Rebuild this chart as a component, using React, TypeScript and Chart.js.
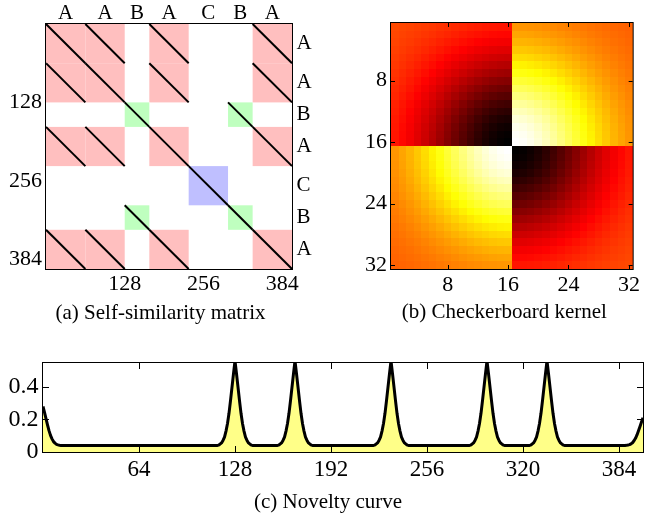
import React, { useEffect, useRef } from 'react';
import { Chart, registerables } from 'chart.js';

Chart.register(...registerables);

// ---------- data ----------
const segmentLabels = ['A', 'A', 'B', 'A', 'C', 'B', 'A'];
const segmentLengths = [64, 64, 40, 64, 64, 40, 64];
const ssmTicks = [128, 256, 384];

// taper of the checkerboard kernel, from the centre (index 0) to the edge (index 15)
const kernelTaper = [0.998, 0.984, 0.958, 0.919, 0.869, 0.811, 0.746, 0.678, 0.607, 0.536, 0.466, 0.4, 0.339, 0.283, 0.234, 0.19];
const kernelTicks = [8, 16, 24, 32];

const noveltyPeakPositions = [0, 128, 168, 232, 296, 336, 400];
const noveltyPeakHeights = [0.28, 0.56, 0.56, 0.56, 0.56, 0.56, 0.21];
const noveltyBaseline = 0.04;
// fraction of a peak's height above the baseline, at distance 0,1,2,... frames from the peak
const noveltyPeakShape = [1, 0.85, 0.69, 0.53, 0.38, 0.26, 0.17, 0.1, 0.06, 0.03, 0.015, 0.005, 0];
const noveltyXTicks = [64, 128, 192, 256, 320, 384];
const noveltyYTicks = [0, 0.2, 0.4];

const captions = ['(a) Self-similarity matrix', '(b) Checkerboard kernel', '(c) Novelty curve'];

// ---------- styles ----------
const SERIF = "'Liberation Serif', 'Times New Roman', Times, serif";
const labelColors: Record<string, string> = { A: '#ffbfbf', B: '#bfffbf', C: '#bfbfff' };
const fillYellow = '#ffff88';

// ---------- derived tables ----------
const segStarts: number[] = [];
segmentLengths.forEach((len, i) => segStarts.push(i === 0 ? 0 : segStarts[i - 1] + segmentLengths[i - 1]));
const ssmSize = segmentLengths.reduce((a, b) => a + b, 0);
const segCenters = segStarts.map((s, i) => s + segmentLengths[i] / 2);

const kernelN = kernelTaper.length * 2;
function kernelValue(i: number, j: number) {
  const half = kernelTaper.length;
  const ti = kernelTaper[i < half ? half - 1 - i : i - half];
  const tj = kernelTaper[j < half ? half - 1 - j : j - half];
  const sign = (i < half) === (j < half) ? -1 : 1;
  return sign * ti * tj;
}

const noveltyPoints: { x: number; y: number }[] = [];
for (let x = 0; x <= ssmSize; x++) {
  let excess = 0;
  noveltyPeakPositions.forEach((p, k) => {
    const d = Math.abs(x - p);
    if (d < noveltyPeakShape.length) {
      excess = Math.max(excess, (noveltyPeakHeights[k] - noveltyBaseline) * noveltyPeakShape[d]);
    }
  });
  noveltyPoints.push({ x, y: noveltyBaseline + excess });
}

function hot(v: number) {
  const t = Math.min(1, Math.max(0, v));
  const r = Math.min(1, t / 0.375);
  const g = Math.min(1, Math.max(0, (t - 0.375) / 0.375));
  const b = Math.min(1, Math.max(0, (t - 0.75) / 0.25));
  return `rgb(${Math.round(r * 255)},${Math.round(g * 255)},${Math.round(b * 255)})`;
}

// ---------- helpers ----------
const fixedTicks = (values: number[]) => (axis: any) => {
  axis.ticks = values.map((v) => ({ value: v }));
};
const tickFont = (size: number) => ({ family: SERIF, size, lineHeight: 1 });

function axisBase(extra: any) {
  return {
    type: 'linear',
    grid: { display: false, drawTicks: false },
    border: { display: false },
    ...extra,
    ticks: { color: '#000', autoSkip: false, maxRotation: 0, ...(extra.ticks || {}) },
  };
}

const framePlugin = {
  id: 'frame',
  afterDatasetsDraw(chart: any) {
    const { ctx, chartArea: ca } = chart;
    ctx.save();
    ctx.strokeStyle = '#000';
    ctx.lineWidth = 1;
    ctx.strokeRect(ca.left - 0.5, ca.top - 0.5, ca.right - ca.left + 1, ca.bottom - ca.top + 1);
    ctx.restore();
  },
};

const innerTicksPlugin = (len: number) => ({
  id: 'innerTicks',
  afterDatasetsDraw(chart: any) {
    const { ctx, chartArea: ca } = chart;
    ctx.save();
    ctx.strokeStyle = '#000';
    ctx.lineWidth = 1;
    ctx.beginPath();
    const xs = chart.scales.x;
    xs.ticks.forEach((t: any) => {
      const px = Math.round(xs.getPixelForValue(t.value)) + 0.5;
      ctx.moveTo(px, ca.bottom);
      ctx.lineTo(px, ca.bottom - len);
      ctx.moveTo(px, ca.top);
      ctx.lineTo(px, ca.top + len);
    });
    const ys = chart.scales.y;
    ys.ticks.forEach((t: any) => {
      const py = Math.round(ys.getPixelForValue(t.value)) + 0.5;
      ctx.moveTo(ca.left, py);
      ctx.lineTo(ca.left + len, py);
      ctx.moveTo(ca.right, py);
      ctx.lineTo(ca.right - len, py);
    });
    ctx.stroke();
    ctx.restore();
  },
});

const captionPlugin = (text: string, dx: number, dy: number) => ({
  id: 'caption',
  afterDraw(chart: any) {
    const { ctx, chartArea: ca } = chart;
    ctx.save();
    ctx.fillStyle = '#000';
    ctx.font = `21px ${SERIF}`;
    ctx.textAlign = 'center';
    ctx.textBaseline = 'middle';
    ctx.fillText(text, (ca.left + ca.right) / 2 + dx, ca.bottom + dy);
    ctx.restore();
  },
});

const commonOptions = {
  responsive: false,
  animation: false,
  events: [],
  plugins: { legend: { display: false }, tooltip: { enabled: false } },
};

// ---------- (a) self-similarity matrix ----------
function makeSSM(canvas: HTMLCanvasElement) {
  const diagonals: any[] = [];
  segmentLabels.forEach((ri, i) => {
    segmentLabels.forEach((cj, j) => {
      if (ri === cj) {
        diagonals.push({
          data: [
            { x: segStarts[j], y: segStarts[i] },
            { x: segStarts[j] + segmentLengths[j], y: segStarts[i] + segmentLengths[i] },
          ],
          showLine: true,
          borderColor: '#000',
          borderWidth: 2,
          pointRadius: 0,
        });
      }
    });
  });

  const blocksPlugin = {
    id: 'blocks',
    beforeDatasetsDraw(chart: any) {
      const { ctx } = chart;
      const xs = chart.scales.x;
      const ys = chart.scales.y;
      ctx.save();
      segmentLabels.forEach((ri, i) => {
        segmentLabels.forEach((cj, j) => {
          if (ri !== cj) return;
          const x1 = xs.getPixelForValue(segStarts[j]);
          const x2 = xs.getPixelForValue(segStarts[j] + segmentLengths[j]);
          const y1 = ys.getPixelForValue(segStarts[i]);
          const y2 = ys.getPixelForValue(segStarts[i] + segmentLengths[i]);
          ctx.fillStyle = labelColors[ri];
          ctx.fillRect(x1, y1, x2 - x1, y2 - y1);
        });
      });
      ctx.restore();
    },
  };

  return new Chart(canvas, {
    type: 'scatter',
    data: { datasets: diagonals },
    options: {
      ...commonOptions,
      layout: { padding: 0 },
      scales: {
        x: axisBase({
          position: 'bottom', min: 0, max: ssmSize,
          afterBuildTicks: fixedTicks(ssmTicks),
          afterFit: (s: any) => { s.height = 66; },
          ticks: { font: tickFont(22), padding: 4 },
        }),
        xTop: axisBase({
          position: 'top', min: 0, max: ssmSize,
          afterBuildTicks: fixedTicks(segCenters),
          afterFit: (s: any) => { s.height = 24; },
          ticks: { font: tickFont(21), padding: 0, callback: (_v: any, i: number) => segmentLabels[i] },
        }),
        y: axisBase({
          position: 'left', min: 0, max: ssmSize, reverse: true,
          afterBuildTicks: fixedTicks(ssmTicks),
          afterFit: (s: any) => { s.width = 46; },
          ticks: { font: tickFont(22), padding: 4 },
        }),
        yRight: axisBase({
          position: 'right', min: 0, max: ssmSize, reverse: true,
          afterBuildTicks: fixedTicks(segCenters),
          afterFit: (s: any) => { s.width = 38; },
          ticks: { font: tickFont(21), padding: 4.5, callback: (_v: any, i: number) => segmentLabels[i] },
        }),
      },
    } as any,
    plugins: [blocksPlugin, framePlugin, captionPlugin(captions[0], -8.5, 44)],
  } as any);
}

// ---------- (b) checkerboard kernel ----------
function makeKernel(canvas: HTMLCanvasElement) {
  let vmax = 0;
  for (let i = 0; i < kernelN; i++) for (let j = 0; j < kernelN; j++) vmax = Math.max(vmax, Math.abs(kernelValue(i, j)));

  const heatPlugin = {
    id: 'heat',
    beforeDatasetsDraw(chart: any) {
      const { ctx } = chart;
      const xs = chart.scales.x;
      const ys = chart.scales.y;
      ctx.save();
      for (let i = 0; i < kernelN; i++) {
        for (let j = 0; j < kernelN; j++) {
          const x1 = Math.round(xs.getPixelForValue(j + 0.5));
          const x2 = Math.round(xs.getPixelForValue(j + 1.5));
          const y1 = Math.round(ys.getPixelForValue(i + 0.5));
          const y2 = Math.round(ys.getPixelForValue(i + 1.5));
          ctx.fillStyle = hot((kernelValue(i, j) + vmax) / (2 * vmax));
          ctx.fillRect(x1, y1, x2 - x1, y2 - y1);
        }
      }
      ctx.restore();
    },
  };

  return new Chart(canvas, {
    type: 'scatter',
    data: { datasets: [{ data: [] }] },
    options: {
      ...commonOptions,
      layout: { padding: { top: 23, right: 7, left: 0, bottom: 0 } },
      scales: {
        x: axisBase({
          position: 'bottom', min: 0.5, max: kernelN + 0.5,
          afterBuildTicks: fixedTicks(kernelTicks),
          afterFit: (s: any) => { s.height = 66; },
          ticks: { font: tickFont(22), padding: 5 },
        }),
        y: axisBase({
          position: 'left', min: 0.5, max: kernelN + 0.5, reverse: true,
          afterBuildTicks: fixedTicks(kernelTicks),
          afterFit: (s: any) => { s.width = 61; },
          ticks: { font: tickFont(22), padding: 4 },
        }),
      },
    } as any,
    plugins: [heatPlugin, framePlugin, innerTicksPlugin(4), captionPlugin(captions[1], -7.5, 43)],
  } as any);
}

// ---------- (c) novelty curve ----------
function makeNovelty(canvas: HTMLCanvasElement) {
  return new Chart(canvas, {
    type: 'line',
    data: {
      datasets: [
        {
          data: noveltyPoints,
          borderColor: '#000',
          borderWidth: 3,
          borderJoinStyle: 'round',
          backgroundColor: fillYellow,
          fill: 'origin',
          pointRadius: 0,
          tension: 0,
        },
      ],
    },
    options: {
      ...commonOptions,
      layout: { padding: { top: 28, right: 2, left: 0, bottom: 0 } },
      scales: {
        x: axisBase({
          position: 'bottom', min: 0, max: ssmSize,
          afterBuildTicks: fixedTicks(noveltyXTicks),
          afterFit: (s: any) => { s.height = 62; },
          ticks: { font: tickFont(23), padding: 6.5 },
        }),
        y: axisBase({
          position: 'left', min: 0, max: 0.547,
          afterBuildTicks: fixedTicks(noveltyYTicks),
          afterFit: (s: any) => { s.width = 43; },
          ticks: { font: tickFont(24), padding: 4.5, callback: (v: number) => (v === 0 ? '0' : v.toFixed(1)) },
        }),
      },
    } as any,
    plugins: [framePlugin, innerTicksPlugin(6), captionPlugin(captions[2], -15, 50.5)],
  } as any);
}

export default function App() {
  const refA = useRef<HTMLCanvasElement>(null);
  const refB = useRef<HTMLCanvasElement>(null);
  const refC = useRef<HTMLCanvasElement>(null);

  useEffect(() => {
    const charts = [makeSSM(refA.current!), makeKernel(refB.current!), makeNovelty(refC.current!)];
    return () => charts.forEach((c) => c.destroy());
  }, []);

  return (
    <div style={{ position: 'absolute', left: 0, top: 0, width: 645, height: 514, background: '#fff' }}>
      <canvas ref={refA} width={330} height={335} style={{ position: 'absolute', left: 0, top: 0 }} />
      <canvas ref={refB} width={315} height={335} style={{ position: 'absolute', left: 330, top: 0 }} />
      <canvas ref={refC} width={645} height={179} style={{ position: 'absolute', left: 0, top: 335 }} />
    </div>
  );
}
